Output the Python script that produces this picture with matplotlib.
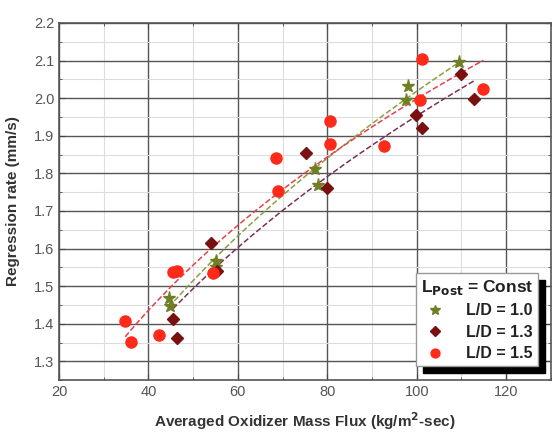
import numpy as np
import matplotlib
matplotlib.use('Agg')
import matplotlib.pyplot as plt
from matplotlib.ticker import MultipleLocator

plt.rcParams['font.family'] = ['Liberation Sans', 'DejaVu Sans']

# L/D = 1.0 (stars)
flux_10 = [44.6, 44.8, 55.0, 55.1, 77.3, 77.9, 97.6, 98.1, 109.5]
rate_10 = [1.469, 1.447, 1.550, 1.567, 1.811, 1.770, 1.995, 2.032, 2.096]

# L/D = 1.3 (diamonds)
flux_13 = [45.5, 46.4, 54.0, 55.3, 75.3, 80.0, 99.9, 101.2, 109.9, 112.8]
rate_13 = [1.413, 1.363, 1.615, 1.540, 1.854, 1.761, 1.955, 1.921, 2.063, 1.997]

# L/D = 1.5 (circles)
flux_15 = [34.8, 36.1, 42.4, 45.5, 46.4, 54.5, 68.5, 69.0, 80.6, 80.6, 92.7, 100.8, 101.2, 114.9]
rate_15 = [1.407, 1.352, 1.370, 1.537, 1.540, 1.535, 1.841, 1.753, 1.939, 1.878, 1.873, 1.995, 2.104, 2.024]

# power-law fits r = a * G^n, as drawn in the figure (a, n, G range)
fit_a = [0.2999, 0.3289, 0.3795]
fit_n = [0.414, 0.3868, 0.3607]
fit_g0 = [44.6, 45.5, 34.8]
fit_g1 = [109.5, 112.8, 114.9]

labels = ['L/D = 1.0', 'L/D = 1.3', 'L/D = 1.5']
markers = ['*', 'D', 'o']
marker_colors = ['#6f7f24', '#7a1010', '#ff2a1a']
line_colors = ['#8aa040', '#7d2f55', '#e6404c']
marker_sizes = [9.5, 6.5, 8]

fig = plt.figure(figsize=(5.57, 4.33), dpi=100)
ax = fig.add_axes([0.106, 0.122, 0.883, 0.825])

data = [(flux_10, rate_10), (flux_13, rate_13), (flux_15, rate_15)]
for i, (fx, ry) in enumerate(data):
    gx = np.linspace(fit_g0[i], fit_g1[i], 100)
    ax.plot(gx, fit_a[i] * gx ** fit_n[i], '--', color=line_colors[i],
            lw=1.1, zorder=2)
    ax.plot(fx, ry, linestyle='none', marker=markers[i],
            color=marker_colors[i], ms=marker_sizes[i], label=labels[i],
            zorder=3)

ax.set_xlim(20, 130)
ax.set_ylim(1.25, 2.2)
ax.xaxis.set_minor_locator(MultipleLocator(10))
ax.yaxis.set_minor_locator(MultipleLocator(0.05))
ax.set_xticks([20, 40, 60, 80, 100, 120])
ax.set_yticks(np.round(np.arange(1.3, 2.21, 0.1), 1))
ax.set_xticklabels(['20', '40', '60', '80', '100', '120'])
ax.grid(which='major', color='#555555', lw=1.0)
ax.grid(which='minor', color='#dddddd', lw=0.8)
ax.set_axisbelow(True)
ax.tick_params(which='both', direction='in', top=True, right=True,
               colors='#444444', labelcolor='#555555', labelsize=10.5)
ax.tick_params(which='major', length=4)
ax.tick_params(which='minor', length=2)
for s in ax.spines.values():
    s.set_color('#555555')
    s.set_linewidth(1.2)

ax.set_xlabel('Averaged Oxidizer Mass Flux (kg/m$^\\mathbf{2}$-sec)',
              fontsize=11, fontweight='bold', color='#333333', labelpad=8)
ax.set_ylabel('Regression rate (mm/s)', fontsize=11, fontweight='bold',
              color='#333333', labelpad=10)

leg = ax.legend(loc='lower right', bbox_to_anchor=(0.974, 0.04),
                borderaxespad=0, title='L$_{\\mathbf{Post}}$ = Const',
                prop={'weight': 'bold', 'size': 11.5},
                title_fontproperties={'weight': 'bold', 'size': 12.5},
                fancybox=False, edgecolor='#999999', framealpha=1,
                shadow={'ox': 5, 'oy': -5, 'color': 'black', 'alpha': 1},
                handletextpad=1.0, labelspacing=0.4, borderpad=0.3,
                handlelength=1.8, markerscale=0.8)
leg._legend_box.align = 'left'
for t in leg.get_texts():
    t.set_color('#222222')
leg.get_title().set_color('#222222')

fig.savefig('out.png', dpi=100)
